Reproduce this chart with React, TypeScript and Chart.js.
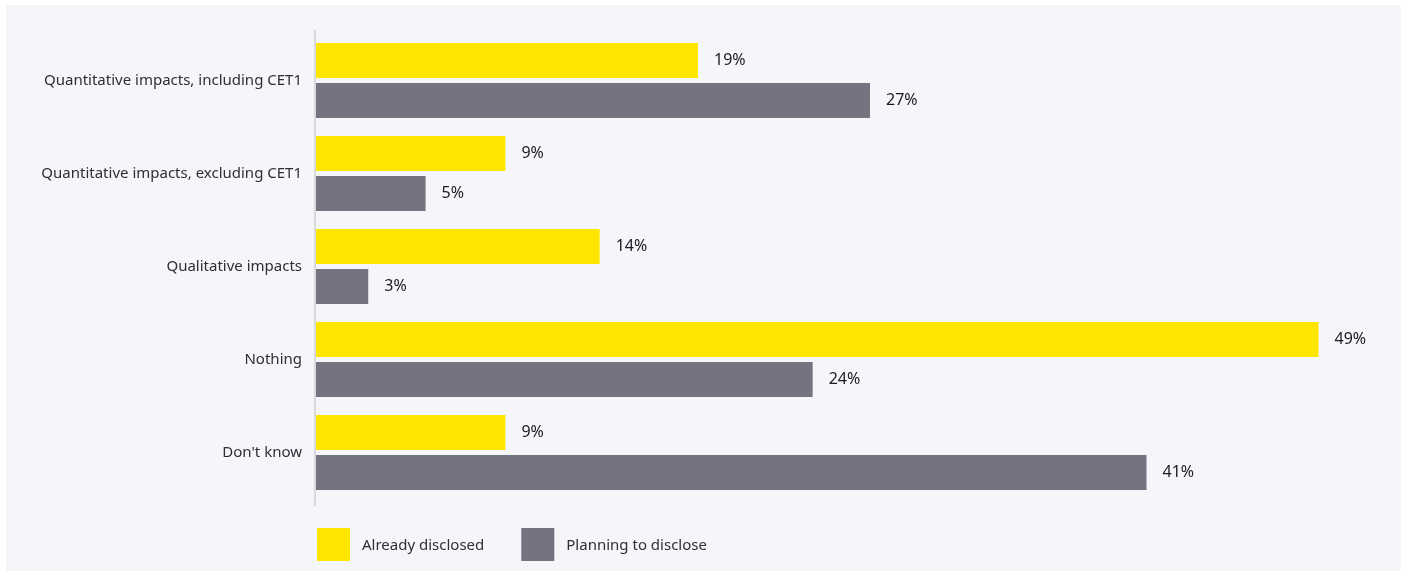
import React, { useEffect, useRef } from "react";
import { Chart, registerables } from "chart.js";

Chart.register(...registerables);

const categories = [
  "Quantitative impacts, including CET1",
  "Quantitative impacts, excluding CET1",
  "Qualitative impacts",
  "Nothing",
  "Don't know",
];
const seriesNames = ["Already disclosed", "Planning to disclose"];
const alreadyDisclosed = [18.7, 9.3, 13.9, 49.0, 9.3];
const planningToDisclose = [27.1, 5.4, 2.6, 24.3, 40.6];
const seriesColors = ["#FFE600", "#747480"];

const FONT = "'Noto Sans', sans-serif";
const TEXT = "#2e2e38";

const valueLabels = {
  id: "valueLabels",
  afterDatasetsDraw(chart: any) {
    const ctx = chart.ctx;
    ctx.save();
    ctx.font = `16px ${FONT}`;
    ctx.fillStyle = "#1a1a24";
    ctx.textAlign = "left";
    ctx.textBaseline = "middle";
    chart.data.datasets.forEach((ds: any, i: number) => {
      const meta = chart.getDatasetMeta(i);
      meta.data.forEach((bar: any, j: number) => {
        ctx.fillText(Math.round(ds.data[j]) + "%", bar.x + 16, bar.y);
      });
    });
    ctx.restore();
  },
};

const axisAndLegend = {
  id: "axisAndLegend",
  afterDraw(chart: any) {
    const ctx = chart.ctx;
    const a = chart.chartArea;
    ctx.save();
    ctx.strokeStyle = "#d8d8dd";
    ctx.lineWidth = 2;
    ctx.beginPath();
    ctx.moveTo(a.left, a.top - 4);
    ctx.lineTo(a.left, a.bottom + 7);
    ctx.stroke();

    const y0 = a.bottom + 29;
    const size = 33;
    let x = a.left + 2;
    ctx.font = `15px ${FONT}`;
    ctx.textBaseline = "middle";
    ctx.textAlign = "left";
    seriesNames.forEach((name, i) => {
      ctx.fillStyle = seriesColors[i];
      ctx.fillRect(x, y0, size, size);
      ctx.fillStyle = TEXT;
      ctx.fillText(name, x + size + 12, y0 + size / 2 + 1);
      x += size + 12 + ctx.measureText(name).width + 37;
    });
    ctx.restore();
  },
};

export default function App() {
  const ref = useRef<HTMLCanvasElement>(null);
  useEffect(() => {
    if (!ref.current) return;
    const chart = new Chart(ref.current, {
      type: "bar",
      data: {
        labels: categories,
        datasets: [
          {
            label: seriesNames[0],
            data: alreadyDisclosed,
            backgroundColor: seriesColors[0],
            categoryPercentage: 80 / 93,
            barPercentage: 0.875,
          },
          {
            label: seriesNames[1],
            data: planningToDisclose,
            backgroundColor: seriesColors[1],
            categoryPercentage: 80 / 93,
            barPercentage: 0.875,
          },
        ],
      },
      options: {
        indexAxis: "y",
        animation: false,
        responsive: false,
        maintainAspectRatio: false,
        layout: { padding: { top: 29, bottom: 72, right: 62, left: 0 } },
        plugins: { legend: { display: false }, tooltip: { enabled: false } },
        scales: {
          x: { display: false, min: 0, max: 50 },
          y: {
            afterFit: (s: any) => {
              s.width = 309;
            },
            grid: { display: false, drawTicks: false },
            border: { display: false },
            ticks: {
              padding: 13,
              color: TEXT,
              font: { family: FONT, size: 15 },
            },
          },
        },
      },
      plugins: [valueLabels, axisAndLegend],
    });
    return () => chart.destroy();
  }, []);
  return (
    <div
      style={{
        position: "absolute",
        left: 6,
        top: 5,
        width: 1395,
        height: 566,
        background: "#f5f6fa",
      }}
    >
      <canvas ref={ref} width={1395} height={566} style={{ display: "block" }} />
    </div>
  );
}
